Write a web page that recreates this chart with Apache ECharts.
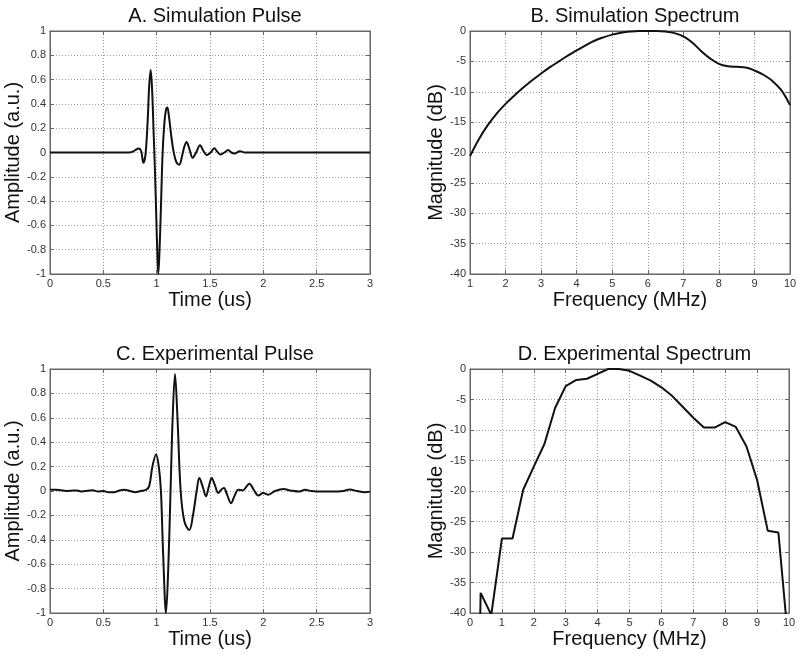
<!DOCTYPE html>
<html>
<head>
<meta charset="utf-8">
<script src="https://cdn.jsdelivr.net/npm/echarts@6/dist/echarts.min.js"></script>
<style>
html,body{margin:0;padding:0;background:#fff;}
#chart{width:800px;height:656px;}
</style>
</head>
<body>
<div id="chart"></div>
<script>
// ---- Panel A: simulation pulse ----
const simPulseTime = [0, 0.70, 0.76, 0.80, 0.831, 0.855, 0.875, 0.895, 0.915, 0.93, 0.944, 0.958, 0.972, 0.984, 0.997, 1.007, 1.015, 1.025, 1.04, 1.056, 1.072, 1.087, 1.10, 1.115, 1.135, 1.16, 1.185, 1.212, 1.24, 1.26, 1.28, 1.31, 1.337, 1.37, 1.406, 1.44, 1.47, 1.505, 1.54, 1.57, 1.60, 1.635, 1.67, 1.70, 1.73, 1.78, 1.83, 2.0, 2.5, 3.0];
const simPulseAmp  = [0, 0, 0.002, 0.02, 0.033, 0.01, -0.085, -0.02, 0.25, 0.55, 0.68, 0.50, 0.15, -0.15, -0.55, -0.85, -1.0, -0.85, -0.45, 0.0, 0.24, 0.35, 0.37, 0.3, 0.15, 0.0, -0.08, -0.10, -0.02, 0.05, 0.087, 0.02, -0.044, 0.0, 0.06, 0.01, -0.022, 0.0, 0.035, 0.005, -0.017, 0.0, 0.02, 0.0, -0.008, 0.01, 0, 0, 0, 0];

// ---- Panel B: simulation spectrum ----
const simSpecFreq = [1, 1.25, 1.5, 1.75, 2, 2.25, 2.5, 2.75, 3, 3.25, 3.5, 3.75, 4, 4.25, 4.5, 4.75, 5, 5.25, 5.5, 5.75, 6, 6.25, 6.5, 6.75, 7, 7.25, 7.5, 7.75, 8, 8.25, 8.5, 8.75, 9, 9.25, 9.5, 9.75, 10];
const simSpecDb   = [-20.6, -17.8, -15.5, -13.6, -12.0, -10.6, -9.3, -8.1, -7.0, -5.95, -5.0, -4.05, -3.2, -2.35, -1.6, -1.05, -0.6, -0.3, -0.1, 0, 0, 0, -0.1, -0.35, -0.9, -1.9, -3.3, -4.5, -5.4, -5.8, -5.9, -6.0, -6.5, -7.2, -8.2, -9.7, -12.2];

// ---- Panel C: experimental pulse ----
const expPulseTime = [0, 0.05, 0.1, 0.15, 0.2, 0.25, 0.3, 0.35, 0.4, 0.45, 0.5, 0.55, 0.6, 0.65, 0.7, 0.75, 0.8, 0.85, 0.9, 0.93, 0.96, 0.994, 1.02, 1.04, 1.06, 1.0875, 1.11, 1.13, 1.15, 1.172, 1.195, 1.225, 1.26, 1.306, 1.34, 1.375, 1.40, 1.43, 1.4625, 1.49, 1.516, 1.545, 1.578, 1.605, 1.631, 1.66, 1.697, 1.73, 1.766, 1.806, 1.869, 1.91, 1.953, 2.0, 2.047, 2.11, 2.19, 2.25, 2.34, 2.39, 2.45, 2.55, 2.65, 2.75, 2.81, 2.88, 2.95, 3.0];
const expPulseAmp  = [0.01, 0.01, 0.006, 0.0, 0.002, 0.005, -0.004, 0.003, 0.006, -0.004, 0.0, -0.01, -0.01, 0.004, 0.01, 0.0, -0.01, 0.0, 0.01, 0.04, 0.2, 0.30, 0.2, 0.0, -0.5, -1.0, -0.6, 0.0, 0.6, 0.96, 0.6, 0.0, -0.25, -0.32, -0.2, 0.0, 0.106, 0.04, -0.044, 0.04, 0.106, 0.05, -0.017, 0.01, 0.024, -0.03, -0.1, -0.04, 0.01, 0.005, 0.06, 0.01, -0.036, -0.017, -0.03, 0.0, 0.016, 0.005, -0.005, 0.01, 0.0, -0.005, -0.005, 0.0, 0.012, 0.0, -0.01, -0.005];

// ---- Panel D: experimental spectrum ----
const expSpecFreq = [0, 0.333, 0.667, 1.0, 1.333, 1.667, 2.0, 2.333, 2.667, 3.0, 3.333, 3.667, 4.0, 4.333, 4.667, 5.0, 5.333, 5.667, 6.0, 6.333, 6.667, 7.0, 7.333, 7.667, 8.0, 8.333, 8.667, 9.0, 9.333, 9.667, 10.0];
const expSpecDb   = [-150, -36.7, -40.3, -27.8, -27.8, -19.8, -16.0, -12.3, -6.4, -2.8, -1.8, -1.6, -0.8, 0, 0, -0.3, -1.1, -1.9, -3.0, -4.4, -6.2, -8.0, -9.6, -9.6, -8.7, -9.5, -12.7, -18.2, -26.5, -26.8, -46];

const titles = ['A. Simulation Pulse', 'B. Simulation Spectrum', 'C. Experimental Pulse', 'D. Experimental Spectrum'];
const xNames = ['Time (us)', 'Frequency (MHz)', 'Time (us)', 'Frequency (MHz)'];
const yNames = ['Amplitude (a.u.)', 'Magnitude (dB)', 'Amplitude (a.u.)', 'Magnitude (dB)'];
const xRanges = [[0, 3, 0.5], [1, 10, 1], [0, 3, 0.5], [0, 10, 1]];
const yRanges = [[-1, 1, 0.2], [-40, 0, 5], [-1, 1, 0.2], [-40, 0, 5]];

const zip = (a, b) => a.map((v, i) => [v, b[i]]);
const seriesData = [
  zip(simPulseTime, simPulseAmp),
  zip(simSpecFreq, simSpecDb),
  zip(expPulseTime, expPulseAmp),
  zip(expSpecFreq, expSpecDb)
];
const smoothFlags = [0.35, 0.4, 0.35, false];

const grids = [
  {left: 50, top: 31, width: 320, height: 243},
  {left: 470, top: 31, width: 320, height: 243},
  {left: 50, top: 369, width: 320, height: 244},
  {left: 470, top: 369, width: 319, height: 244}
];
const FONT = 'Liberation Sans, Arial, Helvetica, sans-serif';
const frameColor = '#666';
const gridLine = {show: true, lineStyle: {color: '#9a9a9a', width: 1, type: [1, 2]}};

const option = {
  backgroundColor: '#fff',
  animation: false,
  title: grids.map((g, i) => ({
    text: titles[i],
    left: g.left + g.width / 2,
    top: g.top - 30,
    textAlign: 'center',
    textStyle: {fontFamily: FONT, fontSize: 20, fontWeight: 'normal', color: '#111'}
  })),
  grid: grids.map(g => Object.assign({show: true, borderColor: frameColor, borderWidth: 1, backgroundColor: 'transparent'}, g)),
  xAxis: [],
  yAxis: [],
  series: []
};

grids.forEach((g, i) => {
  const [xmin, xmax, xint] = xRanges[i];
  const [ymin, ymax, yint] = yRanges[i];
  option.xAxis.push({
    type: 'value', gridIndex: i, min: xmin, max: xmax, interval: xint,
    name: xNames[i], nameLocation: 'middle', nameGap: 16,
    nameTextStyle: {fontFamily: FONT, fontSize: 20, color: '#111'},
    axisLine: {show: true, onZero: false, lineStyle: {color: frameColor}},
    axisTick: {show: true, inside: true, length: 4, lineStyle: {color: frameColor}},
    axisLabel: {fontFamily: FONT, fontSize: 11, color: '#333', margin: 4, showMinLabel: true, showMaxLabel: true},
    splitLine: gridLine
  });
  option.yAxis.push({
    type: 'value', gridIndex: i, min: ymin, max: ymax, interval: yint,
    name: yNames[i], nameLocation: 'middle', nameRotate: 90, nameGap: i % 2 === 0 ? 25 : 21,
    nameTextStyle: {fontFamily: FONT, fontSize: 20, color: '#111'},
    axisLine: {show: true, onZero: false, lineStyle: {color: frameColor}},
    axisTick: {show: true, inside: true, length: 4, lineStyle: {color: frameColor}},
    axisLabel: {fontFamily: FONT, fontSize: 11, color: '#333', margin: 4, showMinLabel: true, showMaxLabel: true},
    splitLine: gridLine
  });
});
// top/right companion axes for MATLAB-style box ticks
grids.forEach((g, i) => {
  const [xmin, xmax, xint] = xRanges[i];
  const [ymin, ymax, yint] = yRanges[i];
  option.xAxis.push({
    type: 'value', gridIndex: i, position: 'top', min: xmin, max: xmax, interval: xint,
    axisLine: {show: true, onZero: false, lineStyle: {color: frameColor}},
    axisTick: {show: true, inside: true, length: 4, lineStyle: {color: frameColor}},
    axisLabel: {show: false}, splitLine: {show: false}
  });
  option.yAxis.push({
    type: 'value', gridIndex: i, position: 'right', min: ymin, max: ymax, interval: yint,
    axisLine: {show: true, onZero: false, lineStyle: {color: frameColor}},
    axisTick: {show: true, inside: true, length: 4, lineStyle: {color: frameColor}},
    axisLabel: {show: false}, splitLine: {show: false}
  });
});

seriesData.forEach((d, i) => {
  option.series.push({
    type: 'line', xAxisIndex: i, yAxisIndex: i, data: d,
    smooth: smoothFlags[i], showSymbol: false, symbol: 'none', clip: true,
    lineStyle: {color: '#111', width: 2}
  });
});

const chart = echarts.init(document.getElementById('chart'), null, {renderer: 'canvas'});
chart.setOption(option);
</script>
</body>
</html>
